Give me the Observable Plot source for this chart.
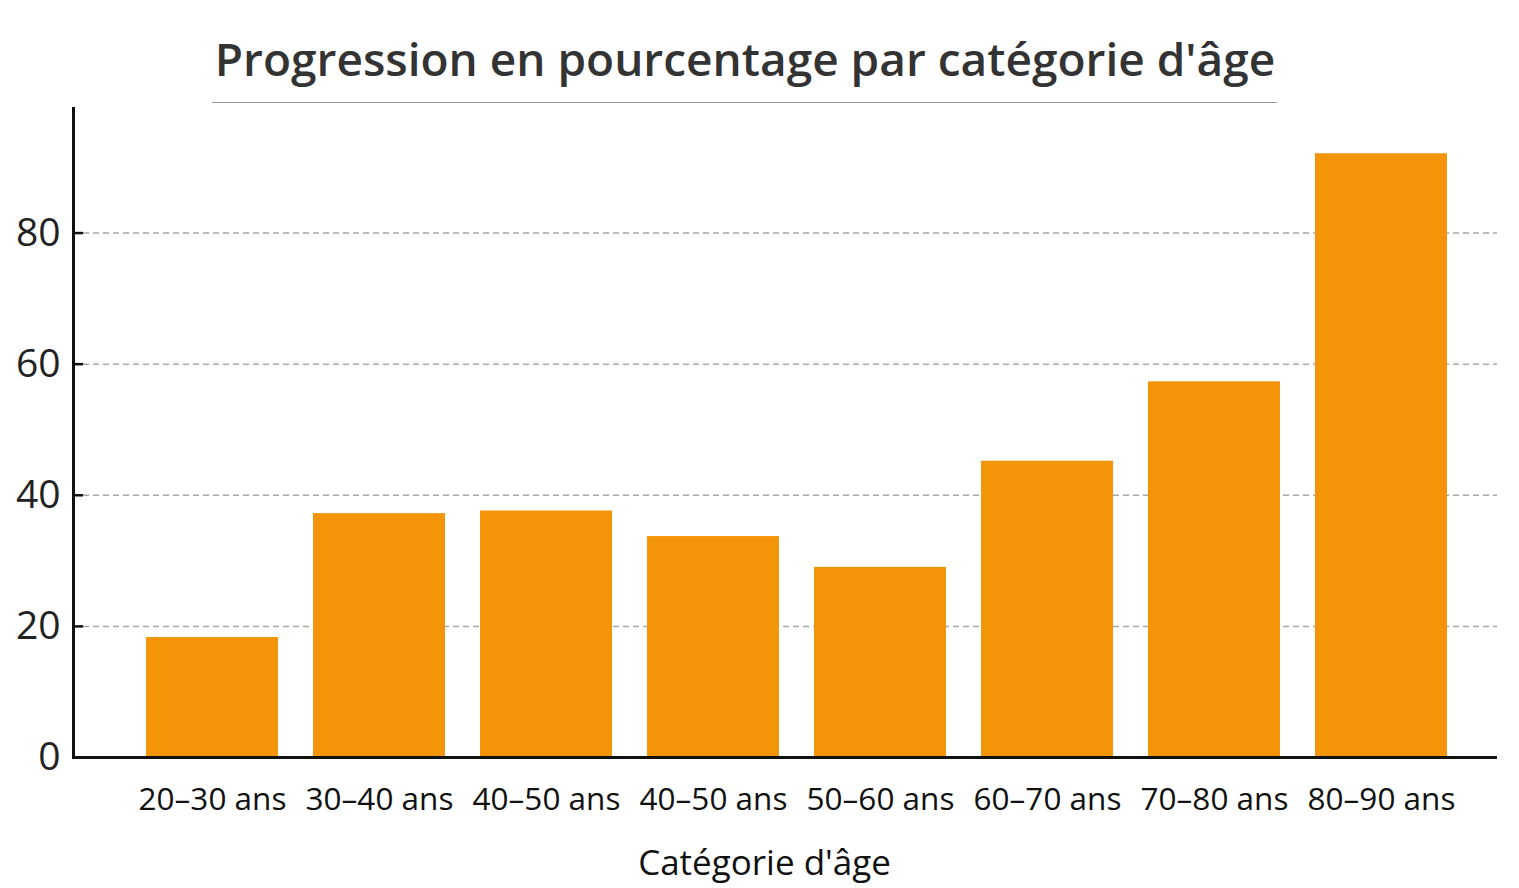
<!DOCTYPE html>
<html><head><meta charset="utf-8">
<script src="https://cdn.jsdelivr.net/npm/d3@7"></script>
<script src="https://cdn.jsdelivr.net/npm/@observablehq/plot@0.6"></script>
<style>
body{margin:0;background:#fff;font-family:"Open Sans",sans-serif;}
#head{position:relative;height:105px;width:1519px;}
#title{position:absolute;left:0;width:1490px;top:35px;text-align:center;font-size:46px;font-weight:600;color:#333;line-height:1;}
#rule{position:absolute;left:212px;width:1065px;top:102px;height:0;border-top:1.5px solid #9a9a9a;}
</style></head><body>
<div id="head"><div id="title">Progression en pourcentage par catégorie d'âge</div><div id="rule"></div></div>
<div id="chart"></div>
<script>
const categories = ["20–30 ans","30–40 ans","40–50 ans","40–50 ans","50–60 ans","60–70 ans","70–80 ans","80–90 ans"];
const values = [18.3, 37.2, 37.6, 33.7, 29.0, 45.2, 57.3, 92.1];
const yTicks = [0, 20, 40, 60, 80];
const xLabel = "Catégorie d'âge";

const data = categories.map((c, i) => ({i, c, v: values[i]}));

const chart = Plot.plot({
  width: 1519,
  height: 783,
  marginTop: 3,
  marginBottom: 131,
  marginLeft: 73,
  marginRight: 22,
  style: {fontFamily: "Open Sans, sans-serif", background: "white"},
  x: {domain: d3.range(categories.length), range: [84, 1508], paddingInner: 0.21, paddingOuter: 0.355, axis: null},
  y: {domain: [0, 99], axis: null},
  marks: [
    Plot.ruleY(yTicks.filter(d => d > 0), {stroke: "#a8a8a8", strokeWidth: 1.5, strokeDasharray: "6,4", insetLeft: 10}),
    Plot.barY(data, {x: "i", y: "v", fill: "#F39409"}),
    Plot.ruleY(yTicks.filter(d => d > 0), {stroke: "#111", strokeWidth: 2.5, insetRight: 1424 - 10}),
    Plot.ruleY([0], {stroke: "#111", strokeWidth: 3}),
    Plot.frame({anchor: "left", stroke: "#111", strokeWidth: 3}),
    Plot.axisY({ticks: yTicks, tickSize: 0, tickPadding: 13, fontSize: 39, color: "#222", label: null}),
    Plot.axisX({tickFormat: i => categories[i], tickSize: 0, tickPadding: 30, fontSize: 31.5, color: "#111", label: null}),
    Plot.text([xLabel], {frameAnchor: "bottom", dx: -21, dy: 106, fontSize: 35, fill: "#111", lineAnchor: "middle"})
  ]
});
document.getElementById("chart").appendChild(chart);
</script>
</body></html>
